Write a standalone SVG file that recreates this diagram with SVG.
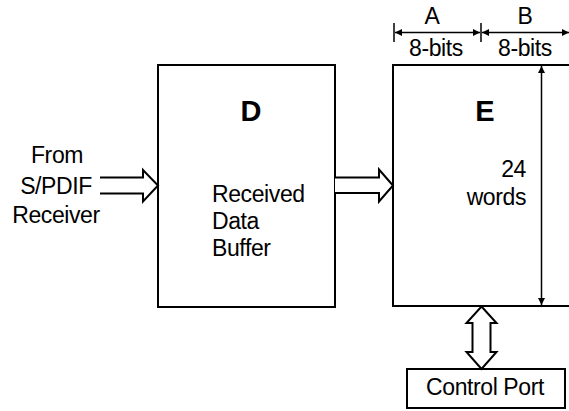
<svg xmlns="http://www.w3.org/2000/svg" width="569" height="411" viewBox="0 0 569 411">
<defs>
<marker id="ah" viewBox="0 0 10 10" refX="10" refY="5" markerWidth="9" markerHeight="7" markerUnits="userSpaceOnUse" orient="auto-start-reverse">
<path d="M0,0 L10,5 L0,10 z" fill="#000"/>
</marker>
<style>
.box{fill:#fff;stroke:#000;stroke-width:2}
.t{font-family:"Liberation Sans",Arial,sans-serif;font-size:23px;letter-spacing:-0.4px;fill:#000}
.b{font-family:"Liberation Sans",Arial,sans-serif;font-size:29px;font-weight:bold;fill:#000}
.ln{stroke:#000;stroke-width:1.5;fill:none}
.fat{fill:#fff;stroke:#000;stroke-width:2;stroke-linejoin:miter}
</style>
</defs>
<rect width="569" height="411" fill="#fff"/>
<g id="nodeD">
<rect class="box" x="158" y="65" width="177" height="242"/>
<text class="b" x="251" y="121" text-anchor="middle">D</text>
<text class="t" x="212" y="202">Received</text>
<text class="t" x="212" y="229">Data</text>
<text class="t" x="212" y="256">Buffer</text>
</g>
<g id="nodeE">
<rect class="box" x="393" y="65" width="190" height="241"/>
<text class="b" x="485" y="121" text-anchor="middle">E</text>
<text class="t" x="526" y="177" text-anchor="end">24</text>
<text class="t" x="526" y="205" text-anchor="end">words</text>
</g>
<g id="nodeCP">
<rect class="box" x="407" y="369" width="158" height="39"/>
<text class="t" x="485" y="395" text-anchor="middle">Control Port</text>
</g>
<g id="source">
<text class="t" x="57" y="163" text-anchor="middle">From</text>
<text class="t" x="56" y="194" text-anchor="middle">S/PDIF</text>
<text class="t" x="56" y="223" text-anchor="middle">Receiver</text>
</g>
<g id="dims">
<text class="t" x="432" y="24" text-anchor="middle">A</text>
<text class="t" x="525" y="24" text-anchor="middle">B</text>
<text class="t" x="436" y="56" text-anchor="middle">8-bits</text>
<text class="t" x="525" y="56" text-anchor="middle">8-bits</text>
</g>
<g id="connectors">
<path class="fat" d="M100,177.5 H143 V170 L158,185.5 L143,201.5 V193.5 H100"/>
<path class="fat" d="M335,177.5 H379 V169.5 L393,185.5 L379,201.5 V193 H335"/>
<path class="fat" d="M481.5,306.5 L496.5,323 H490.5 V352 H496.5 L481.5,369 L466.5,352 H472.5 V323 H466.5 Z"/>
<line class="ln" x1="394" y1="23" x2="394" y2="42"/>
<line class="ln" x1="481" y1="23" x2="481" y2="42"/>
<line class="ln" x1="395" y1="32.5" x2="480" y2="32.5" marker-start="url(#ah)" marker-end="url(#ah)"/>
<line class="ln" x1="482" y1="32.5" x2="569" y2="32.5" marker-start="url(#ah)" marker-end="url(#ah)"/>
<line class="ln" x1="541.5" y1="66" x2="541.5" y2="305" marker-start="url(#ah)" marker-end="url(#ah)"/>
</g>
</svg>
